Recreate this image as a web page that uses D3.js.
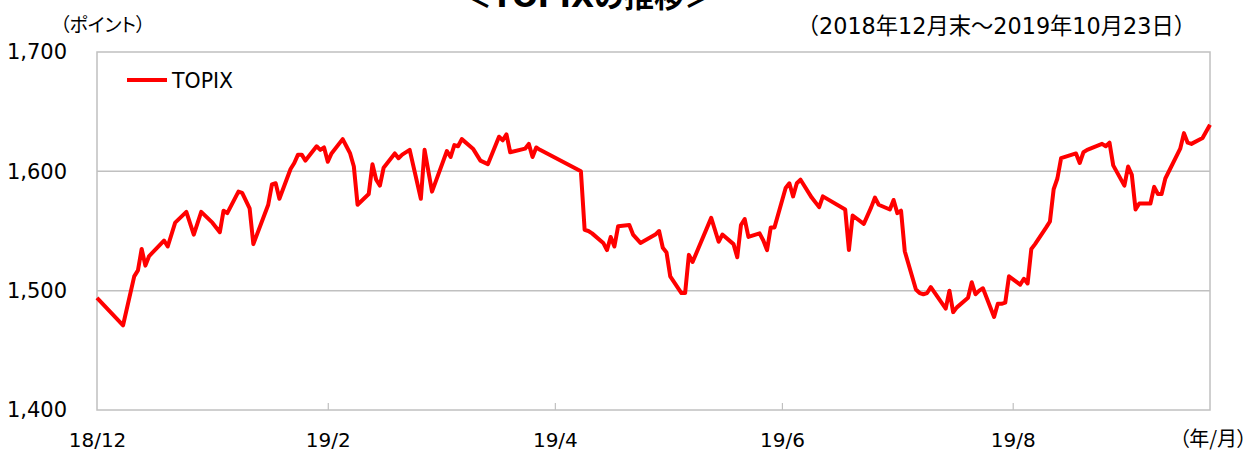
<!DOCTYPE html>
<html><head><meta charset="utf-8">
<script src="https://cdn.jsdelivr.net/npm/d3@7"></script>
<style>
html,body{margin:0;padding:0;background:#fff;}
svg{display:block;font-family:"DejaVu Sans","Noto Sans CJK JP",sans-serif;}
</style></head>
<body><svg id="c" width="1252" height="452"></svg>
<script>
const dates = ["2018-12-28","2019-01-04","2019-01-07","2019-01-08","2019-01-09","2019-01-10","2019-01-11","2019-01-15","2019-01-16","2019-01-18","2019-01-21","2019-01-23","2019-01-25","2019-01-28","2019-01-30","2019-01-31",
"2019-02-01","2019-02-04","2019-02-05","2019-02-07","2019-02-08","2019-02-12","2019-02-13","2019-02-14","2019-02-15","2019-02-18","2019-02-19","2019-02-20","2019-02-21","2019-02-22","2019-02-25","2019-02-26","2019-02-27","2019-02-28",
"2019-03-01","2019-03-04","2019-03-05","2019-03-06","2019-03-07","2019-03-08","2019-03-11","2019-03-12","2019-03-13","2019-03-14","2019-03-15","2019-03-18","2019-03-19","2019-03-20","2019-03-22","2019-03-25","2019-03-26","2019-03-28",
"2019-04-01","2019-04-02","2019-04-03","2019-04-04","2019-04-05","2019-04-08","2019-04-10","2019-04-12","2019-04-15","2019-04-16","2019-04-17","2019-04-18","2019-04-22","2019-04-23","2019-04-24","2019-04-25","2019-04-26",
"2019-05-07","2019-05-08","2019-05-09","2019-05-10","2019-05-13","2019-05-14","2019-05-15","2019-05-16","2019-05-17","2019-05-20","2019-05-21","2019-05-23","2019-05-27","2019-05-28","2019-05-29","2019-05-30","2019-05-31",
"2019-06-03","2019-06-04","2019-06-05","2019-06-06","2019-06-11","2019-06-13","2019-06-14","2019-06-17","2019-06-18","2019-06-19","2019-06-20","2019-06-21","2019-06-24","2019-06-25","2019-06-26","2019-06-27","2019-06-28",
"2019-07-01","2019-07-02","2019-07-03","2019-07-04","2019-07-05","2019-07-08","2019-07-10","2019-07-11","2019-07-17","2019-07-18","2019-07-19","2019-07-22","2019-07-24","2019-07-25","2019-07-26","2019-07-29","2019-07-30","2019-07-31",
"2019-08-01","2019-08-02","2019-08-05","2019-08-06","2019-08-07","2019-08-08","2019-08-09","2019-08-13","2019-08-14","2019-08-15","2019-08-16","2019-08-19","2019-08-20","2019-08-21","2019-08-22","2019-08-23","2019-08-26","2019-08-27","2019-08-28","2019-08-29","2019-08-30",
"2019-09-02","2019-09-03","2019-09-04","2019-09-05","2019-09-06","2019-09-09","2019-09-10","2019-09-11","2019-09-12","2019-09-13","2019-09-17","2019-09-18","2019-09-19","2019-09-20","2019-09-24","2019-09-25","2019-09-26","2019-09-27","2019-09-30",
"2019-10-01","2019-10-02","2019-10-03","2019-10-04","2019-10-07","2019-10-08","2019-10-09","2019-10-10","2019-10-11","2019-10-15","2019-10-16","2019-10-17","2019-10-18","2019-10-21","2019-10-23"];
const topix = [1494,1471,1512,1517,1535,1521,1529,1542,1537,1557,1566,1547,1566,1557,1549,1567,
1565,1583,1582,1569,1539,1572,1589,1590,1577,1602,1607,1614,1614,1609,1621,1618,1620,1608,
1615,1627,1621,1615,1604,1572,1581,1606,1593,1588,1603,1615,1611,1614,1618,1577,1618,1583,
1617,1612,1622,1621,1627,1619,1609,1606,1629,1626,1631,1616,1619,1623,1612,1620,1618,
1600,1551,1550,1548,1540,1534,1545,1537,1554,1555,1547,1540,1547,1550,1536,1532,1512,
1498,1498,1530,1524,1561,1541,1547,1539,1528,1555,1560,1545,1548,1542,1534,1553,1553,
1586,1590,1579,1590,1593,1578,1570,1579,1568,1534,1563,1556,1570,1578,1572,1568,1576,1565,
1567,1533,1501,1498,1497,1498,1503,1485,1500,1482,1486,1494,1507,1497,1500,1502,1478,1489,1489,1490,1512,
1505,1510,1506,1535,1539,1553,1558,1585,1594,1611,1615,1607,1616,1618,1623,1621,1624,1605,1588,
1604,1597,1568,1573,1573,1587,1581,1581,1594,1619,1632,1624,1623,1628,1639];
const xTickDates = ["2018-12-28","2019-02-28","2019-04-30","2019-06-30","2019-08-31"];
const xTickLabels = ["18/12","19/2","19/4","19/6","19/8"];
const yTicks = [1400,1500,1600,1700];
const seriesName = "TOPIX";
const titleText = "＜TOPIXの推移＞";
const periodText = "（2018年12月末～2019年10月23日）";
const yUnit = "（ポイント）";
const xUnit = "（年/月）";

const parse = d3.timeParse("%Y-%m-%d");
const data = dates.map((d,i)=>({date:parse(d), v:topix[i]}));
const L=97, R=1210, T=52, B=410;
const x = d3.scaleTime().domain([parse(dates[0]), parse(dates[dates.length-1])]).range([L,R]);
const y = d3.scaleLinear().domain([1400,1700]).range([B,T]);
const svg = d3.select("#c");
const grey = "#c0c0c0";
const FONT = "'DejaVu Sans','Noto Sans CJK JP',sans-serif";

// gridlines
svg.append("g").selectAll("line").data(yTicks.slice(1,-1)).join("line")
  .attr("x1",L).attr("x2",R).attr("y1",d=>y(d)).attr("y2",d=>y(d))
  .attr("stroke",grey).attr("stroke-width",1.5);

// frame
svg.append("rect").attr("x",L).attr("y",T).attr("width",R-L).attr("height",B-T)
  .attr("fill","none").attr("stroke",grey).attr("stroke-width",1.5);

// x axis ticks (inside) and labels
const xAxis = d3.axisBottom(x).tickValues(xTickDates.map(parse))
  .tickFormat((d,i)=>xTickLabels[i]).tickSize(-7).tickSizeOuter(0);
const gx = svg.append("g").attr("transform",`translate(0,${B})`).call(xAxis);
gx.select(".domain").remove();
gx.selectAll(".tick line").attr("stroke",grey).attr("stroke-width",1.2);
gx.selectAll(".tick").filter((d,i)=>i===0).select("line").remove();
gx.selectAll("text").attr("font-size",20).attr("fill","#000")
  .attr("font-family",FONT).attr("dy",null).attr("y",37);

// y axis labels
const yAxis = d3.axisLeft(y).tickValues(yTicks).tickFormat(d3.format(",")).tickSize(0).tickPadding(30);
const gy = svg.append("g").attr("transform",`translate(${L},0)`).call(yAxis);
gy.select(".domain").remove();
gy.selectAll("text").attr("font-size",21).attr("fill","#000").attr("font-family",FONT);

// line
const line = d3.line().x(d=>x(d.date)).y(d=>y(d.v));
svg.append("path").datum(data).attr("d",line).attr("fill","none")
  .attr("stroke","#ff0000").attr("stroke-width",4).attr("stroke-linejoin","round");

// legend
svg.append("line").attr("x1",127).attr("x2",167).attr("y1",80).attr("y2",80)
  .attr("stroke","#ff0000").attr("stroke-width",4);
svg.append("text").attr("x",172).attr("y",88).attr("font-size",20.5).text(seriesName);

// texts
svg.append("text").attr("x",588).attr("y",7).attr("text-anchor","middle")
  .attr("font-size",30).attr("font-weight","bold").text(titleText);
svg.append("text").attr("x",1196).attr("y",34).attr("text-anchor","end")
  .attr("font-size",22.3).text(periodText);
svg.append("text").attr("x",60).attr("y",32).attr("font-size",19)
  .attr("font-family","'Noto Sans CJK JP',sans-serif")
  .style("font-feature-settings","'palt'").text(yUnit);
svg.append("text").attr("x",1247).attr("y",446).attr("text-anchor","end").attr("font-size",20)
  .attr("font-family","'Noto Sans CJK JP',sans-serif")
  .style("font-feature-settings","'palt'").text(xUnit);
</script></body></html>
